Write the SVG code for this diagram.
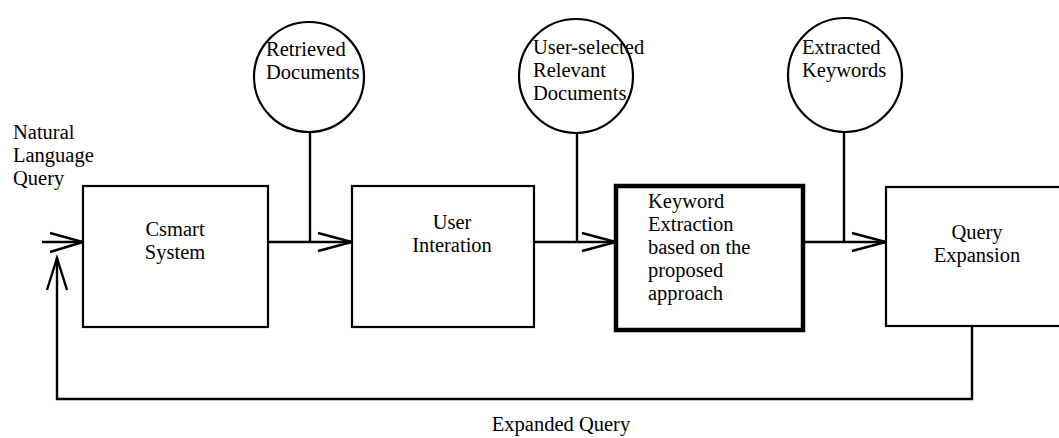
<svg xmlns="http://www.w3.org/2000/svg" width="1059" height="438" viewBox="0 0 1059 438">
<style>
text{font-family:"Liberation Serif","Times New Roman",serif;font-size:20.5px;fill:#000}
.box{fill:#fff;stroke:#000;stroke-width:2.2}
.thick{fill:#fff;stroke:#000;stroke-width:4.5}
.circ{fill:#fff;stroke:#000;stroke-width:2.2}
.ln{fill:none;stroke:#000;stroke-width:2.4}
.mid{text-anchor:middle}
</style>
<rect width="1059" height="438" fill="#fff"/>
<g id="connectors">
<path class="ln" d="M42,242 H83"/>
<path class="ln" d="M50,233 L83,242 L50,252"/>
<path class="ln" d="M972,327 V399 H57 V258"/>
<path class="ln" d="M47,290 L57,258 L67,290"/>
<path class="ln" d="M268,242 H352"/>
<path class="ln" d="M318,233 L352,242 L318,251"/>
<path class="ln" d="M310,131 V242"/>
<path class="ln" d="M534,242 H616"/>
<path class="ln" d="M582,233 L616,242 L582,251"/>
<path class="ln" d="M577,132 V242"/>
<path class="ln" d="M803,242 H886"/>
<path class="ln" d="M852,233 L886,242 L852,251"/>
<path class="ln" d="M844,132 V242"/>
</g>
<g id="input-label">
<text x="13" y="139">Natural</text>
<text x="13" y="162">Language</text>
<text x="13" y="185">Query</text>
</g>
<g id="csmart">
<rect class="box" x="83" y="186" width="185" height="141"/>
<text class="mid" x="175" y="236">Csmart</text>
<text class="mid" x="175" y="259">System</text>
</g>
<g id="user-interation">
<rect class="box" x="352" y="186" width="182" height="141"/>
<text class="mid" x="452" y="229">User</text>
<text class="mid" x="452" y="252">Interation</text>
</g>
<g id="keyword-extraction">
<rect class="thick" x="616" y="186" width="187" height="144"/>
<text x="648" y="208">Keyword</text>
<text x="648" y="231">Extraction</text>
<text x="648" y="254">based on the</text>
<text x="648" y="277">proposed</text>
<text x="648" y="300">approach</text>
</g>
<g id="query-expansion">
<rect class="box" x="886" y="187" width="180" height="139"/>
<text class="mid" x="977" y="239">Query</text>
<text class="mid" x="977" y="262">Expansion</text>
</g>
<g id="retrieved-documents">
<circle class="circ" cx="309" cy="77" r="55"/>
<text x="266" y="56">Retrieved</text>
<text x="266" y="79">Documents</text>
</g>
<g id="relevant-documents">
<circle class="circ" cx="576" cy="76" r="57"/>
<text x="533" y="54">User-selected</text>
<text x="533" y="77">Relevant</text>
<text x="533" y="100">Documents</text>
</g>
<g id="extracted-keywords">
<circle class="circ" cx="845" cy="75" r="57"/>
<text x="802" y="54">Extracted</text>
<text x="802" y="77">Keywords</text>
</g>
<g id="feedback-label">
<text class="mid" x="561" y="431">Expanded Query</text>
</g>
</svg>
